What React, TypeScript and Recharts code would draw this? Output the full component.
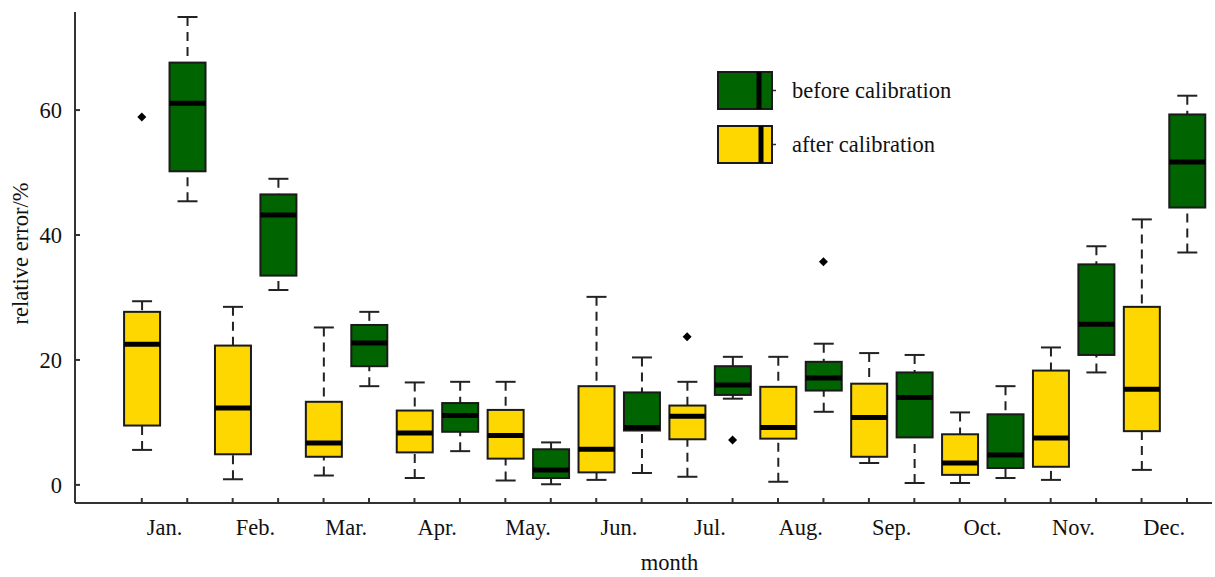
import React from "react";
import { ComposedChart, Bar, Scatter, XAxis, YAxis, Legend } from "recharts";

const months = ["Jan.", "Feb.", "Mar.", "Apr.", "May.", "Jun.", "Jul.", "Aug.", "Sep.", "Oct.", "Nov.", "Dec."];

// after calibration (yellow, left box of each month)
const afterMin = [5.6, 0.9, 1.5, 1.1, 0.7, 0.8, 1.3, 0.5, 3.5, 0.3, 0.8, 2.4];
const afterQ1 = [9.5, 4.9, 4.5, 5.2, 4.2, 2.0, 7.3, 7.4, 4.5, 1.6, 2.9, 8.6];
const afterMedian = [22.5, 12.3, 6.7, 8.3, 7.9, 5.7, 11.0, 9.2, 10.8, 3.5, 7.5, 15.3];
const afterQ3 = [27.7, 22.3, 13.3, 11.9, 12.0, 15.8, 12.7, 15.7, 16.2, 8.1, 18.3, 28.5];
const afterMax = [29.4, 28.5, 25.2, 16.4, 16.5, 30.1, 16.5, 20.5, 21.1, 11.6, 22.0, 42.5];

// before calibration (green, right box of each month)
const beforeMin = [45.4, 31.2, 15.8, 5.4, 0.1, 1.9, 13.8, 11.7, 0.3, 1.1, 18.0, 37.2];
const beforeQ1 = [50.2, 33.5, 19.0, 8.5, 1.1, 8.7, 14.4, 15.1, 7.6, 2.7, 20.8, 44.4];
const beforeMedian = [61.1, 43.2, 22.7, 11.1, 2.4, 9.2, 16.0, 17.1, 14.0, 4.8, 25.7, 51.7];
const beforeQ3 = [67.6, 46.5, 25.6, 13.1, 5.7, 14.8, 19.0, 19.7, 18.0, 11.3, 35.3, 59.3];
const beforeMax = [74.9, 49.0, 27.7, 16.5, 6.8, 20.4, 20.5, 22.6, 20.8, 15.8, 38.2, 62.3];

const afterOutliers = [
  { month: 0, value: 58.9 },
  { month: 6, value: 23.7 },
];
const beforeOutliers = [
  { month: 6, value: 7.2 },
  { month: 7, value: 35.7 },
];

const yTicks = [0, 20, 40, 60];
const legendNames = ["before calibration", "after calibration"];

const GREEN = "#006400";
const YELLOW = "#FFD700";
const AXIS = "#333";
const FONT = "'Liberation Serif', 'Times New Roman', serif";
const FS = 22.5;

const boxes = months.flatMap((m, i) => [
  {
    pos: 2 * i,
    range: [afterMin[i], afterMax[i]],
    q1: afterQ1[i],
    median: afterMedian[i],
    q3: afterQ3[i],
    fill: YELLOW,
  },
  {
    pos: 2 * i + 1,
    range: [beforeMin[i], beforeMax[i]],
    q1: beforeQ1[i],
    median: beforeMedian[i],
    q3: beforeQ3[i],
    fill: GREEN,
  },
]);

const outliers = [
  ...afterOutliers.map((o) => ({ pos: 2 * o.month, value: o.value })),
  ...beforeOutliers.map((o) => ({ pos: 2 * o.month + 1, value: o.value })),
];

const boxTicks = boxes.map((b) => b.pos);
const monthTicks = months.map((m, i) => 2 * i + 0.5);
const xDomain = [-1.47, 23.55];

// bar spans min..max, so the rest of the stats are placed along it
function BoxShape(props: any) {
  const { x, y, width, height } = props;
  const d = props.payload || props;
  const [lo, hi] = d.range;
  const k = height / (hi - lo);
  const py = (v: number) => y + (hi - v) * k;
  const cx = x + width / 2;
  return (
    <g>
      <line x1={cx} x2={cx} y1={py(hi)} y2={py(d.q3)} stroke="#222" strokeWidth={2} strokeDasharray="9 6" />
      <line x1={cx} x2={cx} y1={py(lo)} y2={py(d.q1)} stroke="#222" strokeWidth={2} strokeDasharray="9 6" />
      <line x1={cx - 10} x2={cx + 10} y1={py(hi)} y2={py(hi)} stroke="#222" strokeWidth={2} />
      <line x1={cx - 10} x2={cx + 10} y1={py(lo)} y2={py(lo)} stroke="#222" strokeWidth={2} />
      <rect x={x} y={py(d.q3)} width={width} height={py(d.q1) - py(d.q3)} fill={d.fill} stroke="#1a1a1a" strokeWidth={2} />
      <line x1={x} x2={x + width} y1={py(d.median)} y2={py(d.median)} stroke="#000" strokeWidth={5} />
    </g>
  );
}

function Diamond(props: any) {
  const { cx, cy } = props;
  const r = 4.5;
  return <path d={`M${cx},${cy - r}L${cx + r},${cy}L${cx},${cy + r}L${cx - r},${cy}Z`} fill="#000" />;
}

const Nothing = () => <g />;

function LegendBox() {
  const colors = [GREEN, YELLOW];
  return (
    <div style={{ fontFamily: FONT, fontSize: FS, color: "#111" }}>
      {legendNames.map((name, i) => (
        <div key={name} style={{ display: "flex", alignItems: "center", height: 40, marginBottom: 14 }}>
          <svg width={60} height={40}>
            <rect x={1} y={1} width={54} height={37} fill={colors[i]} stroke="#1a1a1a" strokeWidth={2} />
            <line x1={42 + i * 2} x2={42 + i * 2} y1={1} y2={38} stroke="#000" strokeWidth={5} />
            <line x1={56} x2={59} y1={19.5} y2={19.5} stroke="#333" strokeWidth={1.5} />
          </svg>
          <span style={{ marginLeft: 15, whiteSpace: "nowrap" }}>{name}</span>
        </div>
      ))}
    </div>
  );
}

const yLabel = (props: any) => {
  const vb = props.viewBox;
  const lx = vb.x + 28;
  const ly = vb.y + vb.height / 2 - 4;
  return (
    <text x={lx} y={ly} transform={`rotate(-90 ${lx} ${ly})`} textAnchor="middle" fontFamily={FONT} fontSize={FS} fill="#111">
      relative error/%
    </text>
  );
};

const xLabel = (props: any) => {
  const vb = props.viewBox;
  return (
    <text x={vb.x + vb.width / 2 + 26} y={vb.y + 65} textAnchor="middle" fontFamily={FONT} fontSize={FS} fill="#111">
      month
    </text>
  );
};

export default function App() {
  return (
    <div style={{ position: "absolute", left: 0, top: 0 }}>
      <ComposedChart width={1215} height={577} data={boxes} margin={{ top: 12, right: 3, bottom: 0, left: 0 }}>
        <XAxis
          dataKey="pos"
          type="number"
          domain={xDomain}
          allowDataOverflow
          ticks={boxTicks}
          interval={0}
          tick={Nothing}
          tickSize={-5}
          height={2}
          axisLine={{ stroke: AXIS, strokeWidth: 2 }}
          tickLine={{ stroke: AXIS, strokeWidth: 2 }}
        />
        <XAxis
          xAxisId="m"
          dataKey="pos"
          type="number"
          domain={xDomain}
          allowDataOverflow
          ticks={monthTicks}
          interval={0}
          tickFormatter={(v) => months[Math.round((v - 0.5) / 2)]}
          axisLine={false}
          tickLine={false}
          tickSize={0}
          tickMargin={14}
          height={72}
          tick={{ fill: "#111", fontSize: FS, fontFamily: FONT }}
          label={xLabel}
        />
        <YAxis
          type="number"
          domain={[-2.9, 75.7]}
          allowDataOverflow
          ticks={yTicks}
          interval={0}
          width={75}
          tickSize={-5}
          tickMargin={18}
          axisLine={{ stroke: AXIS, strokeWidth: 2 }}
          tickLine={{ stroke: AXIS, strokeWidth: 2 }}
          tick={{ fill: "#111", fontSize: FS, fontFamily: FONT }}
          label={yLabel}
        />
        <Legend
          layout="vertical"
          align="center"
          verticalAlign="middle"
          wrapperStyle={{ left: 717, top: 71, width: 320 }}
          content={() => <LegendBox />}
        />
        <Bar dataKey="range" barSize={36} shape={BoxShape} isAnimationActive={false} />
        <Scatter data={outliers} dataKey="value" shape={Diamond} isAnimationActive={false} />
        {/* keeps the month axis tied to the same data so its domain matches */}
        <Scatter xAxisId="m" data={outliers} dataKey="value" shape={Nothing} isAnimationActive={false} legendType="none" />
      </ComposedChart>
    </div>
  );
}
